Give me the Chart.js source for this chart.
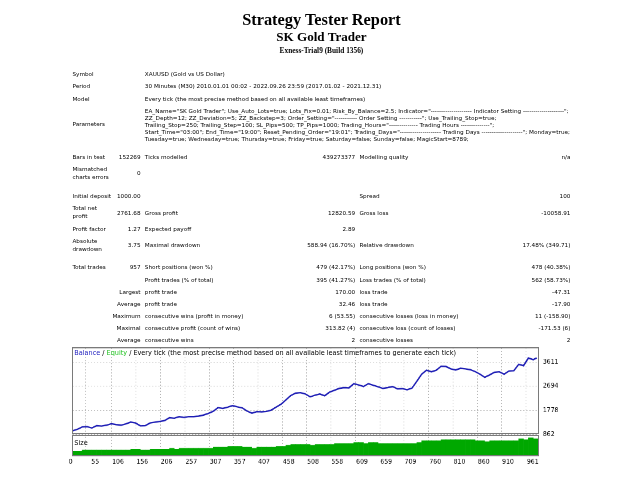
<!DOCTYPE html>
<html>
<head>
<meta charset="utf-8">
<title>Strategy Tester: SK Gold Trader</title>
<script src="https://cdn.jsdelivr.net/npm/chart.js@4.4.0/dist/chart.umd.min.js"></script>
<style>
  html, body { margin: 0; padding: 0; background: #fff; }
  #page { position: absolute; left: 69.5px; top: 0; width: 820px; padding-top: 17px;
          transform: scale(0.6133); transform-origin: 0 0; }
  .h1 { font: bold 20pt 'Liberation Serif', 'Times New Roman', serif; text-align: center; }
  .h2 { font: bold 16pt 'Liberation Serif', 'Times New Roman', serif; text-align: center; }
  .h3 { font: bold 9pt 'Liberation Serif', 'Times New Roman', serif; text-align: center; margin-top: 3px; }
  table { width: 820px; table-layout: fixed; border-collapse: separate; border-spacing: 1px; margin-top: 20px; }
  td { font: 9.3px/12.9px 'DejaVu Sans', sans-serif; padding: 3px; text-align: left; color: #000; }
  td.r { text-align: right; }
  td.par { white-space: nowrap; line-height: 11.6px; }
  tr.gap td { height: 9px; padding: 0; }
  tr.gap2 td { height: 11px; padding: 0; }
  #graph { position: absolute; left: 0; top: 564px; width: 820px; height: 200px; }
  #graph canvas { position: absolute; left: -10px; top: -10px; }
  .lbl { position: absolute; font: 10.6px 'DejaVu Sans', sans-serif; white-space: nowrap; color: #000; }
</style>
</head>
<body>
<div id="page">
  <div class="h1">Strategy Tester Report</div>
  <div class="h2">SK Gold Trader</div>
  <div class="h3">Exness-Trial9 (Build 1356)</div>
  <table>
    <colgroup>
      <col style="width:71px"><col style="width:45px"><col style="width:201px">
      <col style="width:147px"><col style="width:221px"><col style="width:128px">
    </colgroup>
    <tr><td colspan="2">Symbol</td><td colspan="4">XAUUSD (Gold vs US Dollar)</td></tr>
    <tr><td colspan="2">Period</td><td colspan="4">30 Minutes (M30) 2010.01.01 00:02 - 2022.09.26 23:59 (2017.01.02 - 2021.12.31)</td></tr>
    <tr><td colspan="2">Model</td><td colspan="4">Every tick (the most precise method based on all available least timeframes)</td></tr>
    <tr><td colspan="2">Parameters</td><td colspan="4" class="par">EA_Name="SK Gold Trader"; Use_Auto_Lots=true; Lots_Fix=0.01; Risk_By_Balance=2.5; Indicator="-------------------- Indicator Setting --------------------";<br>ZZ_Depth=12; ZZ_Deviation=5; ZZ_Backstep=3; Order_Setting="----------- Order Setting -----------"; Use_Trailing_Stop=true;<br>Trailing_Stop=250; Trailing_Step=100; SL_Pips=500; TP_Pips=1000; Trading_Hours="-------------- Trading Hours --------------";<br>Start_Time="03:00"; End_Time="19:00"; Reset_Pending_Order="19:01"; Trading_Days="-------------------- Trading Days --------------------"; Monday=true;<br>Tuesday=true; Wednesday=true; Thursday=true; Friday=true; Saturday=false; Sunday=false; MagicStart=8789;</td></tr>
    <tr class="gap"><td colspan="6"></td></tr>
    <tr><td>Bars in test</td><td class="r">152269</td><td>Ticks modelled</td><td class="r">439273377</td><td>Modelling quality</td><td class="r">n/a</td></tr>
    <tr><td>Mismatched charts errors</td><td class="r">0</td><td colspan="4"></td></tr>
    <tr class="gap2"><td colspan="6"></td></tr>
    <tr><td>Initial deposit</td><td class="r">1000.00</td><td colspan="2"></td><td>Spread</td><td class="r">100</td></tr>
    <tr><td>Total net profit</td><td class="r">2761.68</td><td>Gross profit</td><td class="r">12820.59</td><td>Gross loss</td><td class="r">-10058.91</td></tr>
    <tr><td>Profit factor</td><td class="r">1.27</td><td>Expected payoff</td><td class="r">2.89</td><td colspan="2"></td></tr>
    <tr><td>Absolute drawdown</td><td class="r">3.75</td><td>Maximal drawdown</td><td class="r">588.94 (16.70%)</td><td>Relative drawdown</td><td class="r">17.48% (349.71)</td></tr>
    <tr class="gap"><td colspan="6"></td></tr>
    <tr><td>Total trades</td><td class="r">957</td><td>Short positions (won %)</td><td class="r">479 (42.17%)</td><td>Long positions (won %)</td><td class="r">478 (40.38%)</td></tr>
    <tr><td colspan="2"></td><td>Profit trades (% of total)</td><td class="r">395 (41.27%)</td><td>Loss trades (% of total)</td><td class="r">562 (58.73%)</td></tr>
    <tr><td colspan="2" class="r">Largest</td><td>profit trade</td><td class="r">170.00</td><td>loss trade</td><td class="r">-47.31</td></tr>
    <tr><td colspan="2" class="r">Average</td><td>profit trade</td><td class="r">32.46</td><td>loss trade</td><td class="r">-17.90</td></tr>
    <tr><td colspan="2" class="r">Maximum</td><td>consecutive wins (profit in money)</td><td class="r">6 (53.55)</td><td>consecutive losses (loss in money)</td><td class="r">11 (-158.90)</td></tr>
    <tr><td colspan="2" class="r">Maximal</td><td>consecutive profit (count of wins)</td><td class="r">313.82 (4)</td><td>consecutive loss (count of losses)</td><td class="r">-171.53 (6)</td></tr>
    <tr><td colspan="2" class="r">Average</td><td>consecutive wins</td><td class="r">2</td><td>consecutive losses</td><td class="r">2</td></tr>
  </table>

  <div id="graph">
    <canvas id="graphCanvas" width="830" height="210"></canvas>
    <div class="lbl" style="left:7px; top:5px;"><span style="color:#2323c0">Balance</span> / <span style="color:#25c425">Equity</span> / Every tick (the most precise method based on all available least timeframes to generate each tick)</div>
    <div class="lbl" style="left:7px; top:152px;">Size</div>
  </div>
</div>

<script>
const trades = [0, 10, 20, 30, 40, 50, 60, 70, 80, 90,
    100, 110, 120, 130, 140, 150, 160, 170, 180, 190,
    200, 210, 220, 230, 240, 250, 260, 270, 280, 290,
    300, 310, 320, 330, 340, 350, 360, 370, 380, 390,
    400, 410, 420, 430, 440, 450, 460, 470, 480, 490,
    500, 510, 520, 530, 540, 550, 560, 570, 580, 590,
    600, 610, 620, 630, 640, 650, 660, 670, 680, 690,
    700, 710, 720, 730, 740, 750, 760, 770, 780, 790,
    800, 810, 820, 830, 840, 850, 860, 870, 880, 890,
    900, 910, 920, 930, 940, 950, 957];
const balance = [1000, 1060, 1150, 1160, 1110, 1200, 1185, 1215, 1270, 1240,
    1215, 1265, 1330, 1300, 1190, 1200, 1300, 1330, 1360, 1390,
    1500, 1480, 1540, 1510, 1545, 1540, 1560, 1600, 1660, 1740,
    1880, 1850, 1900, 1960, 1910, 1870, 1750, 1670, 1730, 1720,
    1735, 1790, 1900, 2010, 2170, 2340, 2430, 2450, 2400, 2290,
    2350, 2400, 2330, 2470, 2540, 2610, 2640, 2630, 2790, 2740,
    2680, 2790, 2730, 2670, 2610, 2640, 2680, 2590, 2600, 2560,
    2620, 2880, 3150, 3300, 3240, 3300, 3450, 3440, 3350, 3310,
    3370, 3350, 3320, 3250, 3150, 3030, 3120, 3220, 3240, 3150,
    3270, 3280, 3520, 3470, 3760, 3700, 3762];

// lot size, one bar per block of 10 trades
const sizeTrades = [5, 15, 25, 35, 45, 55, 65, 75, 85, 95,
    105, 115, 125, 135, 145, 155, 165, 175, 185, 195,
    205, 215, 225, 235, 245, 255, 265, 275, 285, 295,
    305, 315, 325, 335, 345, 355, 365, 375, 385, 395,
    405, 415, 425, 435, 445, 455, 465, 475, 485, 495,
    505, 515, 525, 535, 545, 555, 565, 575, 585, 595,
    605, 615, 625, 635, 645, 655, 665, 675, 685, 695,
    705, 715, 725, 735, 745, 755, 765, 775, 785, 795,
    805, 815, 825, 835, 845, 855, 865, 875, 885, 895,
    905, 915, 925, 935, 945, 955];
const sizeLots = [0.05, 0.05, 0.06, 0.06, 0.06, 0.06, 0.06, 0.06, 0.06, 0.06,
    0.06, 0.06, 0.07, 0.07, 0.06, 0.06, 0.07, 0.07, 0.07, 0.07,
    0.08, 0.07, 0.08, 0.08, 0.08, 0.08, 0.08, 0.08, 0.08, 0.09,
    0.09, 0.09, 0.10, 0.10, 0.10, 0.09, 0.09, 0.08, 0.09, 0.09,
    0.09, 0.09, 0.10, 0.10, 0.11, 0.12, 0.12, 0.12, 0.12, 0.11,
    0.12, 0.12, 0.12, 0.12, 0.13, 0.13, 0.13, 0.13, 0.14, 0.14,
    0.13, 0.14, 0.14, 0.13, 0.13, 0.13, 0.13, 0.13, 0.13, 0.13,
    0.13, 0.14, 0.16, 0.16, 0.16, 0.16, 0.17, 0.17, 0.17, 0.17,
    0.17, 0.17, 0.17, 0.16, 0.16, 0.15, 0.16, 0.16, 0.16, 0.16,
    0.16, 0.16, 0.18, 0.17, 0.19, 0.18];

const xTickLabels = [0, 55, 106, 156, 206, 257, 307, 357, 407, 458,
    508, 558, 609, 659, 709, 760, 810, 860, 910, 961];
const yTickLabels = [862, 1778, 2694, 3611];

Chart.defaults.font.family = "'DejaVu Sans', sans-serif";
Chart.defaults.font.size = 10;
Chart.defaults.color = '#000';

// frame around the balance panel and the size panel
const panelFrames = {
    id: 'panelFrames',
    afterDraw(chart) {
        const ctx = chart.ctx;
        const area = chart.chartArea;
        const main = chart.scales.y;
        const size = chart.scales.ySize;
        ctx.save();
        ctx.strokeStyle = '#7a7a7a';
        ctx.lineWidth = 2;
        ctx.strokeRect(area.left, main.top, area.right - area.left, main.bottom - main.top - 1.5);
        ctx.strokeRect(area.left, size.top + 1.5, area.right - area.left, size.bottom - size.top - 1.5);
        ctx.restore();
    }
};

const dotted = { display: false, dash: [2, 3] };

const ctx = document.getElementById('graphCanvas').getContext('2d');
new Chart(ctx, {
    type: 'line',
    data: {
        datasets: [{
            label: 'Balance',
            type: 'line',
            data: trades.map((t, i) => ({ x: t, y: balance[i] })),
            yAxisID: 'y',
            borderColor: '#1c1cb4',
            borderWidth: 2.4,
            pointRadius: 0,
            tension: 0,
            order: 0
        }, {
            label: 'Size',
            type: 'bar',
            data: sizeTrades.map((t, i) => ({ x: t, y: sizeLots[i] })),
            yAxisID: 'ySize',
            backgroundColor: '#00a800',
            borderWidth: 0,
            barPercentage: 1,
            categoryPercentage: 1,
            order: 1
        }]
    },
    options: {
        responsive: false,
        animation: false,
        devicePixelRatio: 1,
        layout: { padding: { left: 14, top: 3, right: 0, bottom: 0 } },
        plugins: { legend: { display: false }, tooltip: { enabled: false } },
        scales: {
            x: {
                type: 'linear',
                position: 'bottom',
                min: 0,
                max: 961,
                offset: false,
                afterBuildTicks: s => { s.ticks = xTickLabels.map(v => ({ value: v })); },
                afterFit: s => { s.height = 21; },
                ticks: { align: 'end', autoSkip: false, maxRotation: 0, padding: 4,
                         callback: v => String(v) },
                grid: { color: '#b4b4b4', drawTicks: false },
                border: dotted
            },
            y: {
                type: 'linear',
                position: 'right',
                stack: 'panels',
                stackWeight: 4.1,
                bounds: 'data',
                min: 862,
                max: 4150,
                afterBuildTicks: s => { s.ticks = yTickLabels.map(v => ({ value: v })); },
                afterFit: s => { s.width = 56; },
                ticks: { padding: 7, callback: v => String(v) },
                grid: { color: '#b4b4b4', drawTicks: false },
                border: dotted
            },
            ySize: {
                type: 'linear',
                position: 'right',
                stack: 'panels',
                stackWeight: 1,
                min: 0,
                max: 0.225,
                afterFit: s => { s.width = 56; },
                ticks: { display: false },
                grid: { display: false },
                border: { display: false }
            }
        }
    },
    plugins: [panelFrames]
});
</script>
</body>
</html>
